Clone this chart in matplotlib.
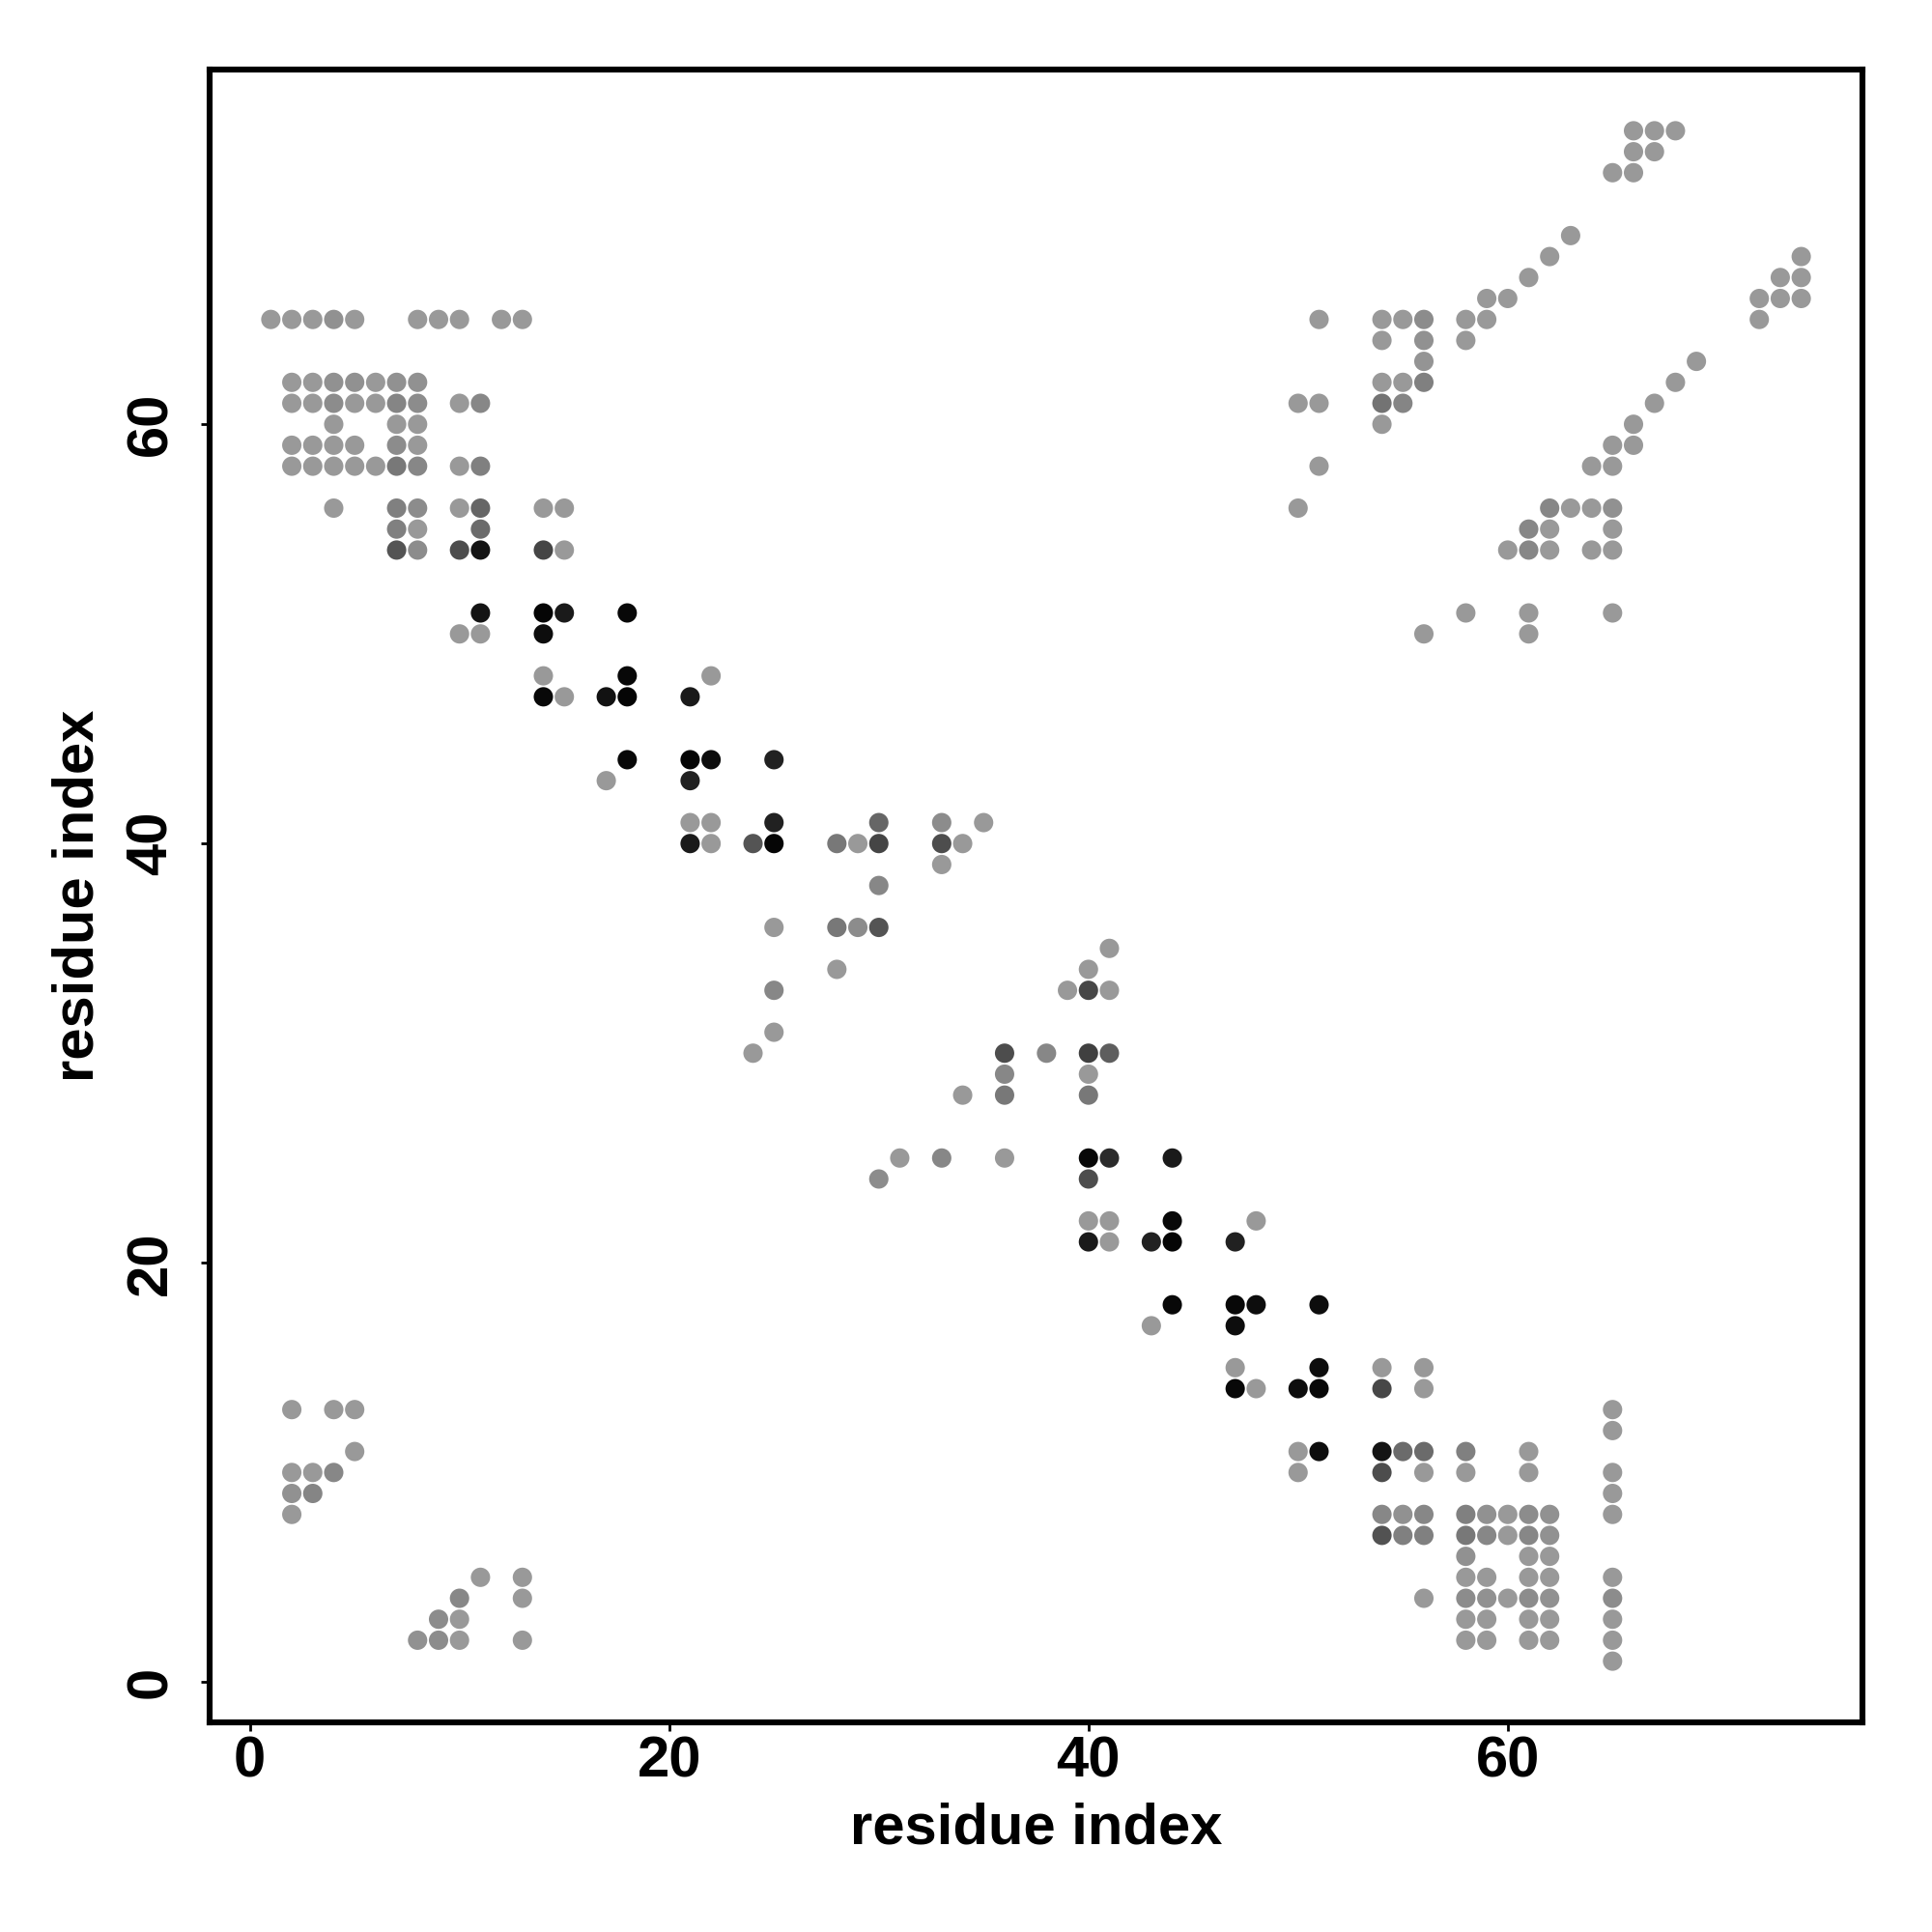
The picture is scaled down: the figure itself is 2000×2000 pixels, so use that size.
"""Residue contact map (grey level = contact strength)."""

import numpy as np
import matplotlib
matplotlib.use('Agg')
import matplotlib.pyplot as plt

from matplotlib import rc
rc('font', family='Liberation Sans', weight='bold')

L = 0.60  # light grey used by most contacts

# residue i (x), residue j (y), grey level of each contact, listed row by row from the top
res_i = [
    66, 67, 68,
    66, 67,
    65, 66,
    63,
    62, 74,
    61, 73, 74,
    59, 60, 72, 73, 74,
    1, 2, 3, 4, 5, 8, 9, 10, 12, 13, 51, 54, 55, 56, 58, 59, 72,
    54, 56, 58,
    56, 69,
    2, 3, 4, 5, 6, 7, 8, 54, 55, 56, 68,
    2, 3, 4, 5, 6, 7, 8, 10, 11, 50, 51, 54, 55, 67,
    4, 7, 8, 54, 66,
    2, 3, 4, 5, 7, 8, 65, 66,
    2, 3, 4, 5, 6, 7, 8, 10, 11, 51, 64, 65,
    4, 7, 8, 10, 11, 14, 15, 50, 62, 63, 64, 65,
    7, 8, 11, 61, 62, 65,
    7, 8, 10, 11, 14, 15, 60, 61, 62, 64, 65,
    11, 14, 15, 18, 58, 61, 65,
    10, 11, 14, 56, 61,
    14, 18, 22,
    14, 15, 17, 18, 21,
    18, 21, 22, 25,
    17, 21,
    21, 22, 25, 30, 33, 35,
    21, 22, 24, 25, 28, 29, 30, 33, 34,
    33,
    30,
    25, 28, 29, 30,
    41,
    28, 40,
    25, 39, 40, 41,
    25,
    24, 36, 38, 40, 41,
    36, 40,
    34, 36, 40,
    31, 33, 36, 40, 41, 44,
    30, 40,
    40, 41, 44, 48,
    40, 41, 43, 44, 47,
    44, 47, 48, 51,
    43, 47,
    47, 51, 54, 56,
    47, 48, 50, 51, 54, 56,
    2, 4, 5, 65,
    65,
    5, 50, 51, 54, 55, 56, 58, 61,
    2, 3, 4, 50, 54, 56, 58, 61, 65,
    2, 3, 65,
    2, 54, 55, 56, 58, 59, 60, 61, 62, 65,
    54, 55, 56, 58, 59, 60, 61, 62,
    58, 61, 62,
    11, 13, 58, 59, 61, 62, 65,
    10, 13, 56, 58, 59, 60, 61, 62, 65,
    9, 10, 58, 59, 61, 62, 65,
    8, 9, 10, 13, 58, 59, 61, 62, 65,
    65,
]

res_j = [
    74, 74, 74,
    73, 73,
    72, 72,
    69,
    68, 68,
    67, 67, 67,
    66, 66, 66, 66, 66,
    65, 65, 65, 65, 65, 65, 65, 65, 65, 65, 65, 65, 65, 65, 65, 65, 65,
    64, 64, 64,
    63, 63,
    62, 62, 62, 62, 62, 62, 62, 62, 62, 62, 62,
    61, 61, 61, 61, 61, 61, 61, 61, 61, 61, 61, 61, 61, 61,
    60, 60, 60, 60, 60,
    59, 59, 59, 59, 59, 59, 59, 59,
    58, 58, 58, 58, 58, 58, 58, 58, 58, 58, 58, 58,
    56, 56, 56, 56, 56, 56, 56, 56, 56, 56, 56, 56,
    55, 55, 55, 55, 55, 55,
    54, 54, 54, 54, 54, 54, 54, 54, 54, 54, 54,
    51, 51, 51, 51, 51, 51, 51,
    50, 50, 50, 50, 50,
    48, 48, 48,
    47, 47, 47, 47, 47,
    44, 44, 44, 44,
    43, 43,
    41, 41, 41, 41, 41, 41,
    40, 40, 40, 40, 40, 40, 40, 40, 40,
    39,
    38,
    36, 36, 36, 36,
    35,
    34, 34,
    33, 33, 33, 33,
    31,
    30, 30, 30, 30, 30,
    29, 29,
    28, 28, 28,
    25, 25, 25, 25, 25, 25,
    24, 24,
    22, 22, 22, 22,
    21, 21, 21, 21, 21,
    18, 18, 18, 18,
    17, 17,
    15, 15, 15, 15,
    14, 14, 14, 14, 14, 14,
    13, 13, 13, 13,
    12,
    11, 11, 11, 11, 11, 11, 11, 11,
    10, 10, 10, 10, 10, 10, 10, 10, 10,
    9, 9, 9,
    8, 8, 8, 8, 8, 8, 8, 8, 8, 8,
    7, 7, 7, 7, 7, 7, 7, 7,
    6, 6, 6,
    5, 5, 5, 5, 5, 5, 5,
    4, 4, 4, 4, 4, 4, 4, 4, 4,
    3, 3, 3, 3, 3, 3, 3,
    2, 2, 2, 2, 2, 2, 2, 2, 2,
    1,
]

grey = [
    L, L, L,
    L, L,
    L, L,
    L,
    L, L,
    L, L, L,
    L, L, L, L, L,
    L, L, L, .57, L, L, L, L, L, L, L, L, L, .55, L, L, L,
    L, .57, L,
    .58, L,
    L, L, .57, .57, L, .57, .57, L, L, .50, L,
    L, L, .55, L, L, .52, .55, L, .53, L, L, .45, .52, L,
    L, L, L, L, L,
    L, L, L, L, .55, L, L, L,
    L, L, L, L, L, .47, .53, L, .50, L, L, L,
    L, .50, .55, L, .40, L, L, L, .53, L, L, .57,
    .50, L, .42, .53, L, L,
    .33, .55, .30, .08, .27, L, L, .53, L, L, L,
    .08, .02, .10, .03, L, L, L,
    L, L, .05, L, L,
    L, .03, L,
    .03, L, .07, .02, .10,
    .03, .02, .05, .13,
    L, .13,
    L, L, .13, .40, .55, L,
    .10, L, .33, .02, .47, L, .27, .30, L,
    L,
    .53,
    L, .47, .55, .33,
    L,
    L, L,
    .53, L, .28, L,
    L,
    L, .30, .53, .25, .37,
    .53, L,
    L, .47, .47,
    L, .53, L, .03, .17, .10,
    .55, .30,
    L, L, .03, L,
    .10, L, .13, .02, .13,
    .03, .03, .05, .05,
    L, .05,
    L, .05, L, L,
    .03, L, .05, .03, .28, L,
    L, L, L, L,
    L,
    L, L, .05, .08, .42, .42, .50, L,
    L, L, .53, L, .30, L, L, L, L,
    .57, .52, L,
    L, .53, .57, .53, .50, .57, L, .55, .57, L,
    .32, .50, .50, .47, .53, L, .53, .57,
    .57, L, L,
    L, L, L, L, L, L, L,
    .53, L, L, .55, .57, L, .55, .57, .55,
    .55, L, L, L, L, L, L,
    .57, .55, L, L, L, L, L, L, L,
    L,
]


def make_plot():
    x = np.array(res_i)
    y = np.array(res_j)
    g = np.array(grey)
    colors = np.column_stack([g, g, g])

    fig = plt.figure(figsize=(10, 10), dpi=200)
    fig.patch.set_facecolor('white')
    ax = fig.add_axes([0.1085, 0.1085, 0.8555, 0.8555])

    ax.scatter(x, y, c=colors, s=52, linewidths=0, zorder=3)

    ax.set_xlim(-1.92, 76.92)
    ax.set_ylim(-1.92, 76.92)
    ax.set_xticks([0, 20, 40, 60])
    ax.set_yticks([0, 20, 40, 60])

    for side in ax.spines.values():
        side.set_linewidth(2.2)
    ax.tick_params(axis='both', direction='out', length=3.3, width=1.0,
                   labelsize=21.5)
    ax.tick_params(axis='x', pad=1.5)
    ax.tick_params(axis='y', pad=8.5, labelrotation=90)
    for lab in ax.get_yticklabels():
        lab.set_verticalalignment('center')

    ax.set_xlabel('residue index', fontsize=21.5, fontweight='bold', labelpad=5)
    ax.set_ylabel('residue index', fontsize=21.5, fontweight='bold', labelpad=7.5)

    fig.savefig('out.png', dpi=200, facecolor='white')


if __name__ == '__main__':
    make_plot()
